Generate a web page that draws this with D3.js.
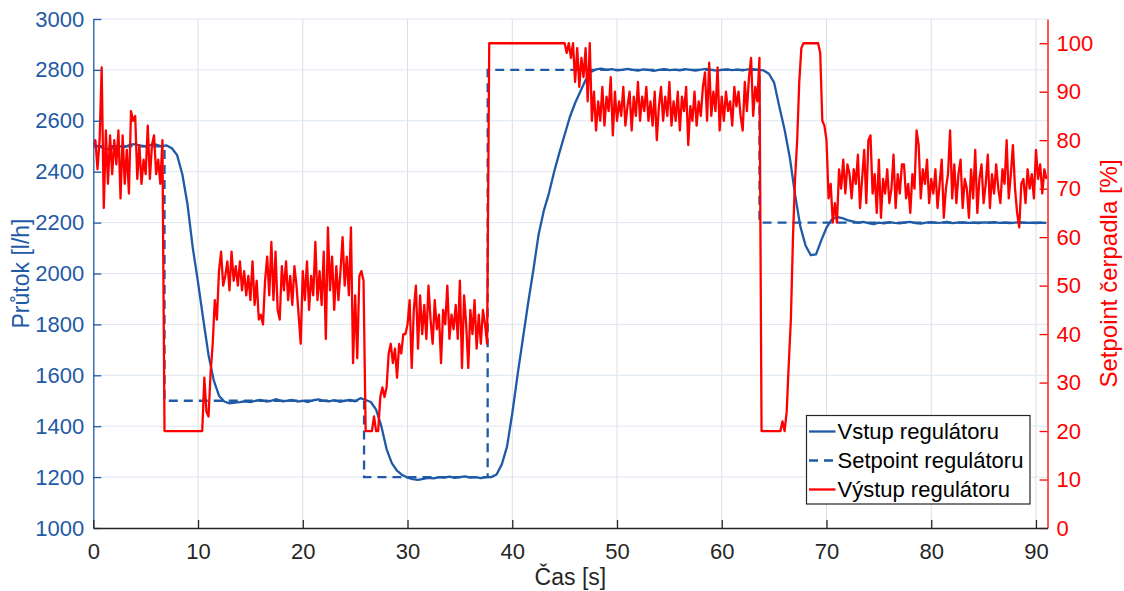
<!DOCTYPE html>
<html>
<head>
<meta charset="utf-8">
<script src="https://cdn.jsdelivr.net/npm/d3@7"></script>
<style>
  html, body { margin: 0; padding: 0; background: #ffffff; }
  svg { display: block; font-family: "Liberation Sans", Arial, Helvetica, sans-serif; }
</style>
</head>
<body>
<svg id="chart" width="1124" height="591"></svg>
<script>
// Measured flow at the controller input, sampled every 0.5 s [l/h]
const flowStep = 0.5;
const flowValues = [
  2505, 2500, 2492, 2488, 2495, 2500, 2497, 2506, 2508, 2502,
  2500, 2505, 2506, 2500, 2503, 2492, 2465, 2390, 2270, 2100,
  1965, 1820, 1680, 1580, 1520, 1497, 1490, 1493, 1495, 1498,
  1495, 1500, 1503, 1497, 1500, 1506, 1498, 1500, 1503, 1497,
  1500, 1495, 1502, 1505, 1500, 1498, 1502, 1496, 1500, 1503,
  1498, 1510, 1503, 1495, 1465, 1400, 1310, 1255, 1225, 1208,
  1198, 1192, 1189, 1193, 1197, 1195, 1200, 1198, 1202, 1197,
  1200, 1203, 1198, 1200, 1196, 1200, 1200, 1210, 1250, 1320,
  1450, 1600, 1740, 1880, 2010, 2150, 2245, 2315, 2400, 2475,
  2545, 2615, 2670, 2715, 2760, 2792, 2802, 2805, 2800, 2803,
  2798, 2800, 2804, 2800, 2797, 2802, 2800, 2796, 2800, 2803,
  2799, 2801, 2798, 2803, 2800, 2797, 2801, 2804, 2800, 2797,
  2800, 2802, 2799, 2801, 2798, 2802, 2803, 2800, 2798, 2785,
  2750, 2655, 2565, 2455, 2310, 2185, 2110, 2072, 2075, 2130,
  2180, 2212, 2222, 2218, 2210, 2205, 2200, 2203, 2198, 2194,
  2200, 2197, 2202, 2199, 2197, 2201, 2203, 2198, 2196, 2200,
  2202, 2199, 2200, 2203, 2198, 2200, 2201, 2199, 2200, 2198,
  2201, 2200, 2202, 2199, 2200, 2198, 2200, 2201, 2199, 2200,
  2198, 2200, 2199
];

// Flow setpoint, piecewise constant: switch times [s] and levels [l/h]
const setpointTimes = [0, 6.8, 25.85, 37.65, 63.6];
const setpointValues = [2500, 1500, 1200, 2800, 2200];
const setpointEnd = 91;

// Controller output (pump setpoint), sampled every 0.2 s [%]
const outputStep = 0.2;
const outputValues = [
  79, 80, 74, 80, 95, 66, 82, 71, 81, 73,
  80, 75, 82, 68, 81, 71, 78, 69, 86, 84,
  85, 72, 79, 71, 76, 73, 83, 72, 79, 81,
  73, 76, 71, 80, 20, 20, 20, 20, 20, 20,
  20, 20, 20, 20, 20, 20, 20, 20, 20, 20,
  20, 20, 20, 31, 24, 23, 32, 38, 47, 43,
  53, 57, 50, 52, 55, 49, 57, 51, 54, 50,
  55, 49, 53, 48, 52, 47, 55, 46, 51, 43,
  44, 42, 51, 56, 48, 59, 47, 57, 45, 43,
  54, 49, 55, 47, 52, 46, 54, 50, 44, 38,
  53, 47, 55, 45, 52, 48, 59, 47, 53, 46,
  57, 39, 62, 49, 56, 45, 54, 47, 53, 60,
  50, 56, 48, 62, 34, 48, 35, 52, 53, 51,
  20, 20, 20, 20, 23, 20, 20, 27, 29, 27,
  29, 36, 38, 34, 37, 31, 38, 36, 40, 40,
  42, 47, 33, 45, 50, 37, 48, 40, 46, 39,
  50, 43, 38, 47, 41, 44, 34, 45, 42, 50,
  39, 44, 41, 46, 39, 51, 33, 48, 42, 33,
  45, 40, 47, 37, 44, 38, 45, 42, 38, 100,
  100, 100, 100, 100, 100, 100, 100, 100, 100, 100,
  100, 100, 100, 100, 100, 100, 100, 100, 100, 100,
  100, 100, 100, 100, 100, 100, 100, 100, 100, 100,
  100, 100, 100, 100, 100, 100, 98, 100, 97, 100,
  92, 99, 91, 97, 93, 99, 88, 100, 84, 90,
  82, 88, 84, 91, 83, 89, 86, 93, 81, 90,
  84, 88, 85, 91, 83, 87, 90, 82, 89, 85,
  92, 84, 89, 86, 91, 84, 88, 83, 90, 80,
  87, 91, 84, 89, 85, 92, 83, 88, 84, 90,
  82, 89, 86, 91, 79, 87, 84, 90, 83, 88,
  85, 91, 94, 84, 96, 85, 90, 86, 95, 82,
  89, 84, 90, 86, 88, 83, 91, 87, 90, 85,
  82, 92, 86, 93, 97, 85, 91, 88, 97, 20,
  20, 20, 20, 20, 20, 20, 20, 20, 20, 22,
  20, 24, 34, 43, 60, 72, 80, 92, 99, 100,
  100, 100, 100, 100, 100, 100, 100, 98, 84, 83,
  80, 68, 71, 63, 67, 63, 74, 70, 76, 69,
  75, 73, 68, 74, 71, 77, 66, 72, 78, 67,
  80, 81, 69, 73, 65, 76, 64, 72, 69, 74,
  67, 70, 77, 66, 73, 69, 75, 75, 68, 71,
  65, 73, 70, 82, 79, 68, 74, 71, 76, 67,
  72, 69, 74, 66, 71, 76, 64, 70, 73, 82,
  68, 75, 67, 73, 76, 66, 72, 70, 64, 74,
  68, 78, 65, 72, 75, 67, 71, 77, 66, 73,
  69, 75, 70, 67, 74, 71, 80, 68, 73, 79,
  70, 65, 62, 71, 72, 67, 74, 70, 73, 68,
  78, 72, 75, 69, 74, 72
];

// Axis ticks
const timeTicks = [0, 10, 20, 30, 40, 50, 60, 70, 80, 90];
const flowTicks = [1000, 1200, 1400, 1600, 1800, 2000, 2200, 2400, 2600, 2800, 3000];
const pctTicks = [0, 10, 20, 30, 40, 50, 60, 70, 80, 90, 100];

// Texts
const xTitle = "Čas [s]";
const yLeftTitle = "Průtok [l/h]";
const yRightTitle = "Setpoint čerpadla [%]";
const legendLabels = ["Vstup regulátoru", "Setpoint regulátoru", "Výstup regulátoru"];

// Colours
const BLUE = "#1f5aa6";
const RED = "#ff0000";
const DARK = "#262626";

const svg = d3.select("#chart");

const x = d3.scaleLinear().domain([0, 91.1]).range([93.3, 1047.5]);
const yL = d3.scaleLinear().domain([1000, 3000]).range([528, 19]);
const yR = d3.scaleLinear().domain([0, 105]).range([528, 19]);

const [x0, x1] = x.range();
const [yBottom, yTop] = yL.range();
const plain = d3.format("d");

// Grid
const grid = svg.append("g");
grid.selectAll("line.v")
  .data(timeTicks.filter(d => d > 0))
  .join("line")
  .attr("x1", d => x(d)).attr("x2", d => x(d))
  .attr("y1", yTop).attr("y2", yBottom)
  .attr("stroke", "#dedede").attr("stroke-width", 1);
grid.selectAll("line.h")
  .data(flowTicks.filter(d => d > 1000))
  .join("line")
  .attr("x1", x0).attr("x2", x1)
  .attr("y1", d => yL(d)).attr("y2", d => yL(d))
  .attr("stroke", "#dde6f1").attr("stroke-width", 1);

// Clip for data lines
svg.append("clipPath").attr("id", "plotArea")
  .append("rect").attr("x", x0).attr("y", yTop - 2)
  .attr("width", x1 - x0).attr("height", yBottom - yTop + 2);

const plot = svg.append("g").attr("clip-path", "url(#plotArea)");

// Measured flow
const flowLine = d3.line()
  .x((d, i) => x(i * flowStep))
  .y(d => yL(d));
plot.append("path")
  .datum(flowValues)
  .attr("d", flowLine)
  .attr("fill", "none").attr("stroke", BLUE)
  .attr("stroke-width", 2.3).attr("stroke-linejoin", "round");

// Setpoint (dashed step)
const setpointPoints = setpointTimes.map((t, i) => [t, setpointValues[i]]);
setpointPoints.push([setpointEnd, setpointValues[setpointValues.length - 1]]);
const setpointLine = d3.line()
  .x(d => x(d[0]))
  .y(d => yL(d[1]))
  .curve(d3.curveStepAfter);
plot.append("path")
  .datum(setpointPoints)
  .attr("d", setpointLine)
  .attr("fill", "none").attr("stroke", BLUE)
  .attr("stroke-width", 2.3).attr("stroke-dasharray", "9,6");

// Controller output on the right axis
const outputLine = d3.line()
  .x((d, i) => x(i * outputStep))
  .y(d => yR(d));
plot.append("path")
  .datum(outputValues)
  .attr("d", outputLine)
  .attr("fill", "none").attr("stroke", RED)
  .attr("stroke-width", 2.3).attr("stroke-linejoin", "round");

// Axes
function styleAxis(g, color, fontSize) {
  g.attr("font-family", null).attr("font-size", null);
  g.select(".domain").attr("stroke", color).attr("stroke-width", 1.3);
  g.selectAll(".tick line").attr("stroke", color).attr("stroke-width", 1.3);
  g.selectAll(".tick text").attr("fill", color).attr("font-size", fontSize);
}

const axLeft = d3.axisLeft(yL).tickValues(flowTicks).tickFormat(plain)
  .tickSizeInner(-8).tickSizeOuter(0).tickPadding(9);
svg.append("g").attr("transform", `translate(${x0},0)`)
  .call(axLeft).call(g => styleAxis(g, BLUE, 22));

const axRight = d3.axisRight(yR).tickValues(pctTicks).tickFormat(plain)
  .tickSizeInner(-8).tickSizeOuter(0).tickPadding(9);
svg.append("g").attr("transform", `translate(${x1},0)`)
  .call(axRight).call(g => styleAxis(g, RED, 22));

const axBottom = d3.axisBottom(x).tickValues(timeTicks).tickFormat(plain)
  .tickSizeInner(-8).tickSizeOuter(0).tickPadding(15);
svg.append("g").attr("transform", `translate(0,${yBottom})`)
  .call(axBottom).call(g => styleAxis(g, DARK, 22));

// Axis titles
svg.append("text")
  .attr("x", (x0 + x1) / 2).attr("y", 585)
  .attr("text-anchor", "middle").attr("font-size", 23).attr("fill", DARK)
  .text(xTitle);
svg.append("text")
  .attr("transform", `translate(29,${(yTop + yBottom) / 2}) rotate(-90)`)
  .attr("text-anchor", "middle").attr("font-size", 23).attr("fill", BLUE)
  .text(yLeftTitle);
svg.append("text")
  .attr("transform", `translate(1117,${(yTop + yBottom) / 2}) rotate(-90)`)
  .attr("text-anchor", "middle").attr("font-size", 24).attr("fill", RED)
  .text(yRightTitle);

// Legend
const legend = svg.append("g").attr("transform", "translate(806.5,415.5)");
legend.append("rect")
  .attr("width", 223.5).attr("height", 88.5)
  .attr("fill", "#ffffff").attr("stroke", DARK).attr("stroke-width", 1.2);
const legendStyles = [
  { color: BLUE, dash: null },
  { color: BLUE, dash: "9,6" },
  { color: RED, dash: null }
];
const items = legend.selectAll("g.item")
  .data(legendLabels)
  .join("g")
  .attr("transform", (d, i) => `translate(0,${16 + i * 29})`);
items.append("line")
  .attr("x1", 2.5).attr("x2", 29)
  .attr("stroke", (d, i) => legendStyles[i].color)
  .attr("stroke-dasharray", (d, i) => legendStyles[i].dash)
  .attr("stroke-width", 2.3);
items.append("text")
  .attr("x", 31).attr("dy", "0.35em")
  .attr("font-size", 22).attr("fill", "#000000")
  .text(d => d);
</script>
</body>
</html>
